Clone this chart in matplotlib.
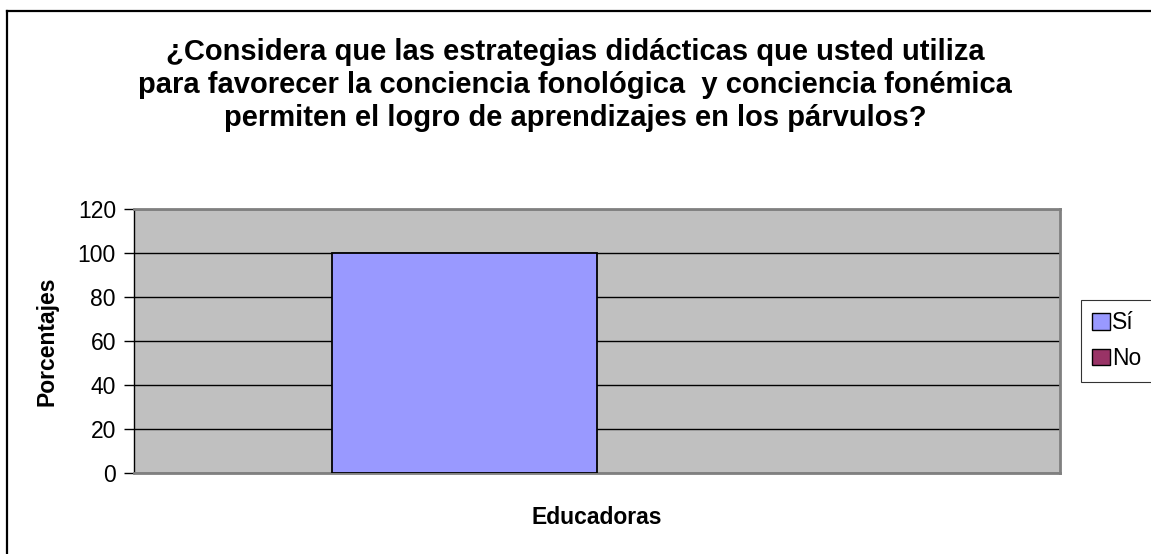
import numpy as np
import matplotlib.pyplot as plt
from matplotlib.lines import Line2D

plt.rcParams['font.family'] = ['Liberation Sans', 'DejaVu Sans']

# datos del gráfico
categorias = ['Educadoras']
series = ['Sí', 'No']
valores = [100, 0]
colores = ['#9999FF', '#993366']
titulo = ('¿Considera que las estrategias didácticas que usted utiliza\n'
          'para favorecer la conciencia fonológica  y conciencia fonémica\n'
          'permiten el logro de aprendizajes en los párvulos?')

W, H = 1151, 554
fs = 16.5
fig = plt.figure(figsize=(W / 100, H / 100), dpi=100)
ax = fig.add_axes([134 / W, (H - 473) / H, (1060 - 134) / W, (473 - 209) / H])
ax.set_facecolor('#C0C0C0')

# barras estilo Excel: ancho de separación 150%
n = len(series)
ancho = 1.0 / (n + 1.5)
x0 = -0.5 + 0.75 * ancho
for i, (s, v, c) in enumerate(zip(series, valores, colores)):
    ax.bar(x0 + i * ancho, v, width=ancho, align='edge', color=c,
           edgecolor='black', linewidth=1.3 if v > 0 else 0, label=s, zorder=3)

ax.set_xlim(-0.5, 0.5)
ax.set_ylim(0, 120)
ax.set_yticks(np.arange(0, 121, 20))
ax.set_xticks([])
ax.yaxis.grid(True, color='black', linewidth=1.0, zorder=1)
ax.set_axisbelow(True)
ax.tick_params(axis='y', direction='out', length=7, width=1, labelsize=fs, pad=6)

for lado in ['top', 'right', 'bottom']:
    ax.spines[lado].set_color('#808080')
    ax.spines[lado].set_linewidth(2)
ax.spines['left'].set_color('black')
ax.spines['left'].set_linewidth(1)

ax.set_ylabel('Porcentajes', fontsize=fs, fontweight='bold', labelpad=14)
fig.text(597 / W, (H - 517) / H, categorias[0], ha='center', va='center',
         fontsize=fs, fontweight='bold')

fig.text(575 / W, (H - 85) / H, titulo, ha='center', va='center',
         fontsize=21, fontweight='bold', linespacing=1.25)

leg = ax.legend(loc='upper left', bbox_to_anchor=(1081 / W, (H - 300) / H),
                bbox_transform=fig.transFigure, fontsize=fs, frameon=True,
                fancybox=False, edgecolor='black', handlelength=0.75,
                handleheight=0.75, handletextpad=0.1, borderpad=0.5,
                labelspacing=0.55, borderaxespad=0)
leg.get_frame().set_linewidth(0.8)
for h in leg.get_patches():
    h.set_edgecolor('black')
    h.set_linewidth(1.0)

# borde exterior del gráfico (recortado a la derecha y abajo)
fig.add_artist(Line2D([7 / W, 7 / W], [0, (H - 11) / H], color='black',
                      linewidth=1.6, transform=fig.transFigure))
fig.add_artist(Line2D([7 / W, 1], [(H - 11) / H, (H - 11) / H], color='black',
                      linewidth=1.6, transform=fig.transFigure))

fig.savefig('out.png', dpi=100)
